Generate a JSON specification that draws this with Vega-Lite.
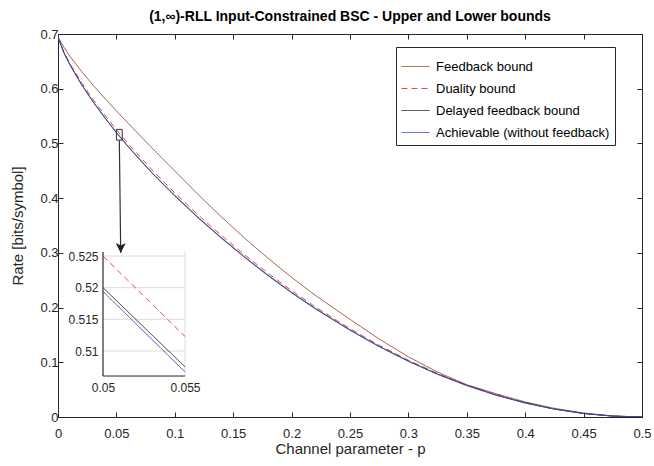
{
  "$schema": "https://vega.github.io/schema/vega-lite/v6.json",
  "width": 584,
  "height": 383,
  "autosize": {"type": "none"},
  "padding": {"left": 58, "top": 34, "right": 12, "bottom": 49},
  "background": "white",
  "title": {"text": "(1,∞)-RLL Input-Constrained BSC - Upper and Lower bounds", "fontSize": 14, "fontWeight": "bold", "font": "Liberation Sans", "color": "#000000", "offset": 4, "anchor": "middle"},
  "config": {
    "view": {"stroke": "#262626", "strokeWidth": 1},
    "font": "Liberation Sans",
    "axis": {"labelFont": "Liberation Sans", "titleFont": "Liberation Sans", "labelColor": "#262626", "titleColor": "#262626", "tickColor": "#262626", "grid": false, "titleFontWeight": "normal"}
  },
  "datasets": {
    "curves": [
      {"series": "Feedback bound", "p": 0, "rate": 0.6942},
      {"series": "Feedback bound", "p": 0.005, "rate": 0.676},
      {"series": "Feedback bound", "p": 0.01, "rate": 0.66},
      {"series": "Feedback bound", "p": 0.02, "rate": 0.632},
      {"series": "Feedback bound", "p": 0.03, "rate": 0.6065},
      {"series": "Feedback bound", "p": 0.04, "rate": 0.5825},
      {"series": "Feedback bound", "p": 0.05, "rate": 0.5595},
      {"series": "Feedback bound", "p": 0.055, "rate": 0.5482},
      {"series": "Feedback bound", "p": 0.06, "rate": 0.537},
      {"series": "Feedback bound", "p": 0.07, "rate": 0.5148},
      {"series": "Feedback bound", "p": 0.08, "rate": 0.4928},
      {"series": "Feedback bound", "p": 0.09, "rate": 0.4711},
      {"series": "Feedback bound", "p": 0.1, "rate": 0.4497},
      {"series": "Feedback bound", "p": 0.12, "rate": 0.4065},
      {"series": "Feedback bound", "p": 0.14, "rate": 0.3655},
      {"series": "Feedback bound", "p": 0.16, "rate": 0.3265},
      {"series": "Feedback bound", "p": 0.18, "rate": 0.2898},
      {"series": "Feedback bound", "p": 0.2, "rate": 0.2552},
      {"series": "Feedback bound", "p": 0.22, "rate": 0.2228},
      {"series": "Feedback bound", "p": 0.25, "rate": 0.1785},
      {"series": "Feedback bound", "p": 0.275, "rate": 0.1425},
      {"series": "Feedback bound", "p": 0.3, "rate": 0.11},
      {"series": "Feedback bound", "p": 0.325, "rate": 0.082},
      {"series": "Feedback bound", "p": 0.35, "rate": 0.059},
      {"series": "Feedback bound", "p": 0.375, "rate": 0.0425},
      {"series": "Feedback bound", "p": 0.4, "rate": 0.0275},
      {"series": "Feedback bound", "p": 0.425, "rate": 0.0158},
      {"series": "Feedback bound", "p": 0.45, "rate": 0.0072},
      {"series": "Feedback bound", "p": 0.475, "rate": 0.0019},
      {"series": "Feedback bound", "p": 0.5, "rate": 0},
      {"series": "Duality bound", "p": 0, "rate": 0.6942},
      {"series": "Duality bound", "p": 0.005, "rate": 0.6672},
      {"series": "Duality bound", "p": 0.01, "rate": 0.6465},
      {"series": "Duality bound", "p": 0.02, "rate": 0.6115},
      {"series": "Duality bound", "p": 0.03, "rate": 0.5805},
      {"series": "Duality bound", "p": 0.04, "rate": 0.5522},
      {"series": "Duality bound", "p": 0.05, "rate": 0.525},
      {"series": "Duality bound", "p": 0.055, "rate": 0.5123},
      {"series": "Duality bound", "p": 0.06, "rate": 0.4998},
      {"series": "Duality bound", "p": 0.07, "rate": 0.476},
      {"series": "Duality bound", "p": 0.08, "rate": 0.4528},
      {"series": "Duality bound", "p": 0.09, "rate": 0.431},
      {"series": "Duality bound", "p": 0.1, "rate": 0.4097},
      {"series": "Duality bound", "p": 0.12, "rate": 0.3693},
      {"series": "Duality bound", "p": 0.14, "rate": 0.3316},
      {"series": "Duality bound", "p": 0.16, "rate": 0.2962},
      {"series": "Duality bound", "p": 0.18, "rate": 0.2625},
      {"series": "Duality bound", "p": 0.2, "rate": 0.231},
      {"series": "Duality bound", "p": 0.22, "rate": 0.2017},
      {"series": "Duality bound", "p": 0.25, "rate": 0.1615},
      {"series": "Duality bound", "p": 0.275, "rate": 0.1311},
      {"series": "Duality bound", "p": 0.3, "rate": 0.1038},
      {"series": "Duality bound", "p": 0.325, "rate": 0.0796},
      {"series": "Duality bound", "p": 0.35, "rate": 0.0587},
      {"series": "Duality bound", "p": 0.375, "rate": 0.041},
      {"series": "Duality bound", "p": 0.4, "rate": 0.0263},
      {"series": "Duality bound", "p": 0.425, "rate": 0.0148},
      {"series": "Duality bound", "p": 0.45, "rate": 0.0066},
      {"series": "Duality bound", "p": 0.475, "rate": 0.0017},
      {"series": "Duality bound", "p": 0.5, "rate": 0},
      {"series": "Delayed feedback bound", "p": 0, "rate": 0.6942},
      {"series": "Delayed feedback bound", "p": 0.005, "rate": 0.6661},
      {"series": "Delayed feedback bound", "p": 0.01, "rate": 0.6447},
      {"series": "Delayed feedback bound", "p": 0.02, "rate": 0.6083},
      {"series": "Delayed feedback bound", "p": 0.03, "rate": 0.5764},
      {"series": "Delayed feedback bound", "p": 0.04, "rate": 0.5475},
      {"series": "Delayed feedback bound", "p": 0.05, "rate": 0.52},
      {"series": "Delayed feedback bound", "p": 0.055, "rate": 0.5075},
      {"series": "Delayed feedback bound", "p": 0.06, "rate": 0.4947},
      {"series": "Delayed feedback bound", "p": 0.07, "rate": 0.4709},
      {"series": "Delayed feedback bound", "p": 0.08, "rate": 0.4477},
      {"series": "Delayed feedback bound", "p": 0.09, "rate": 0.4261},
      {"series": "Delayed feedback bound", "p": 0.1, "rate": 0.4049},
      {"series": "Delayed feedback bound", "p": 0.12, "rate": 0.3648},
      {"series": "Delayed feedback bound", "p": 0.14, "rate": 0.3274},
      {"series": "Delayed feedback bound", "p": 0.16, "rate": 0.2923},
      {"series": "Delayed feedback bound", "p": 0.18, "rate": 0.2588},
      {"series": "Delayed feedback bound", "p": 0.2, "rate": 0.2278},
      {"series": "Delayed feedback bound", "p": 0.22, "rate": 0.1988},
      {"series": "Delayed feedback bound", "p": 0.25, "rate": 0.1591},
      {"series": "Delayed feedback bound", "p": 0.275, "rate": 0.1291},
      {"series": "Delayed feedback bound", "p": 0.3, "rate": 0.1022},
      {"series": "Delayed feedback bound", "p": 0.325, "rate": 0.0783},
      {"series": "Delayed feedback bound", "p": 0.35, "rate": 0.0577},
      {"series": "Delayed feedback bound", "p": 0.375, "rate": 0.0402},
      {"series": "Delayed feedback bound", "p": 0.4, "rate": 0.0257},
      {"series": "Delayed feedback bound", "p": 0.425, "rate": 0.0145},
      {"series": "Delayed feedback bound", "p": 0.45, "rate": 0.0064},
      {"series": "Delayed feedback bound", "p": 0.475, "rate": 0.0016},
      {"series": "Delayed feedback bound", "p": 0.5, "rate": 0},
      {"series": "Achievable (without feedback)", "p": 0, "rate": 0.6942},
      {"series": "Achievable (without feedback)", "p": 0.005, "rate": 0.666},
      {"series": "Achievable (without feedback)", "p": 0.01, "rate": 0.6445},
      {"series": "Achievable (without feedback)", "p": 0.02, "rate": 0.608},
      {"series": "Achievable (without feedback)", "p": 0.03, "rate": 0.576},
      {"series": "Achievable (without feedback)", "p": 0.04, "rate": 0.547},
      {"series": "Achievable (without feedback)", "p": 0.05, "rate": 0.5194},
      {"series": "Achievable (without feedback)", "p": 0.055, "rate": 0.5067},
      {"series": "Achievable (without feedback)", "p": 0.06, "rate": 0.494},
      {"series": "Achievable (without feedback)", "p": 0.07, "rate": 0.4701},
      {"series": "Achievable (without feedback)", "p": 0.08, "rate": 0.4469},
      {"series": "Achievable (without feedback)", "p": 0.09, "rate": 0.4252},
      {"series": "Achievable (without feedback)", "p": 0.1, "rate": 0.404},
      {"series": "Achievable (without feedback)", "p": 0.12, "rate": 0.3639},
      {"series": "Achievable (without feedback)", "p": 0.14, "rate": 0.3265},
      {"series": "Achievable (without feedback)", "p": 0.16, "rate": 0.2914},
      {"series": "Achievable (without feedback)", "p": 0.18, "rate": 0.258},
      {"series": "Achievable (without feedback)", "p": 0.2, "rate": 0.227},
      {"series": "Achievable (without feedback)", "p": 0.22, "rate": 0.1981},
      {"series": "Achievable (without feedback)", "p": 0.25, "rate": 0.1585},
      {"series": "Achievable (without feedback)", "p": 0.275, "rate": 0.1286},
      {"series": "Achievable (without feedback)", "p": 0.3, "rate": 0.1018},
      {"series": "Achievable (without feedback)", "p": 0.325, "rate": 0.078},
      {"series": "Achievable (without feedback)", "p": 0.35, "rate": 0.0574},
      {"series": "Achievable (without feedback)", "p": 0.375, "rate": 0.04},
      {"series": "Achievable (without feedback)", "p": 0.4, "rate": 0.0256},
      {"series": "Achievable (without feedback)", "p": 0.425, "rate": 0.0144},
      {"series": "Achievable (without feedback)", "p": 0.45, "rate": 0.0064},
      {"series": "Achievable (without feedback)", "p": 0.475, "rate": 0.0016},
      {"series": "Achievable (without feedback)", "p": 0.5, "rate": 0}
    ],
    "zoombox": [{"p": 0.05, "p2": 0.055, "rate": 0.506, "rate2": 0.5256}],
    "arrow": [{"p": 0.0525, "rate": 0.506}, {"p": 0.0537, "rate": 0.3}],
    "arrowhead": [{"p": 0.0537, "rate": 0.309}],
    "insetgrid": [
      {"p": 0.05, "p2": 0.055, "rate": 0.51},
      {"p": 0.05, "p2": 0.055, "rate": 0.515},
      {"p": 0.05, "p2": 0.055, "rate": 0.52},
      {"p": 0.05, "p2": 0.055, "rate": 0.525}
    ],
    "insetvgrid": [{"p": 0.055, "rate": 0.50605, "rate2": 0.52563}],
    "insetleft": [{"p": 0.05, "rate": 0.50605, "rate2": 0.52563}],
    "insetbottom": [{"p": 0.05, "p2": 0.055, "rate": 0.50605}]
  },
  "resolve": {"scale": {"x": "independent", "y": "independent"}},
  "layer": [
    {
      "layer": [
        {
          "data": {"name": "curves"},
          "mark": {"type": "line", "strokeWidth": 1, "clip": true},
          "encoding": {
            "x": {"field": "p", "type": "quantitative", "scale": {"domain": [0, 0.5], "nice": false, "zero": false},
              "axis": {"orient": "bottom", "title": "Channel parameter - p", "values": [0, 0.05, 0.1, 0.15, 0.2, 0.25, 0.3, 0.35, 0.4, 0.45, 0.5], "format": "~g", "labelFontSize": 13, "titleFontSize": 15, "tickSize": -5, "labelPadding": 15, "domain": false, "titlePadding": 1, "labelFlush": false}},
            "y": {"field": "rate", "type": "quantitative", "scale": {"domain": [0, 0.7], "nice": false},
              "axis": {"orient": "left", "title": "Rate [bits/symbol]", "values": [0, 0.1, 0.2, 0.3, 0.4, 0.5, 0.6, 0.7], "format": "~g", "labelFontSize": 13, "titleFontSize": 15, "tickSize": -5, "labelPadding": 5, "domain": false, "titlePadding": 14, "labelFlush": false}},
            "color": {"field": "series", "type": "nominal",
              "scale": {"domain": ["Feedback bound", "Duality bound", "Delayed feedback bound", "Achievable (without feedback)"], "range": ["#9E4A35", "#F24444", "#2B2B2B", "#2D4FB8"]},
              "legend": {"orient": "none", "legendX": 338, "legendY": 13, "title": null, "symbolType": "stroke", "symbolSize": 784, "symbolStrokeWidth": 1, "labelFontSize": 13, "labelFont": "Liberation Sans", "labelColor": "#000000", "labelLimit": 0, "strokeColor": "#262626", "fillColor": "#ffffff", "padding": 5, "labelOffset": 6, "rowPadding": 0}},
            "strokeDash": {"field": "series", "type": "nominal",
              "scale": {"domain": ["Feedback bound", "Duality bound", "Delayed feedback bound", "Achievable (without feedback)"], "range": [[1, 0], [6, 4], [1, 0], [1, 0]]},
              "legend": {"orient": "none", "legendX": 338, "legendY": 13, "title": null, "symbolType": "stroke", "symbolSize": 784, "symbolStrokeWidth": 1, "labelFontSize": 13, "labelFont": "Liberation Sans", "labelColor": "#000000", "labelLimit": 0, "strokeColor": "#262626", "fillColor": "#ffffff", "padding": 5, "labelOffset": 6, "rowPadding": 0}}
          }
        },
        {
          "data": {"name": "zoombox"},
          "mark": {"type": "rect", "fill": null, "stroke": "#333333", "strokeWidth": 1},
          "encoding": {
            "x": {"field": "p", "type": "quantitative"},
            "x2": {"field": "p2"},
            "y": {"field": "rate", "type": "quantitative"},
            "y2": {"field": "rate2"}
          }
        },
        {
          "data": {"name": "arrow"},
          "mark": {"type": "line", "stroke": "#333333", "strokeWidth": 1.2},
          "encoding": {
            "x": {"field": "p", "type": "quantitative"},
            "y": {"field": "rate", "type": "quantitative"}
          }
        },
        {
          "data": {"name": "arrowhead"},
          "mark": {"type": "point", "shape": "M-1,-1L0,1L1,-1L0,-0.5Z", "filled": true, "fill": "#222222", "stroke": null, "size": 100, "opacity": 1},
          "encoding": {
            "x": {"field": "p", "type": "quantitative"},
            "y": {"field": "rate", "type": "quantitative"}
          }
        }
      ]
    },
    {
      "data": {"values": [{"p": 0, "rate": 0}]},
      "mark": {"type": "point", "opacity": 0},
      "encoding": {
        "x": {"field": "p", "type": "quantitative", "scale": {"domain": [0, 0.5], "nice": false, "zero": false},
          "axis": {"orient": "top", "title": null, "values": [0, 0.05, 0.1, 0.15, 0.2, 0.25, 0.3, 0.35, 0.4, 0.45, 0.5], "labels": false, "tickSize": -5, "domain": false}},
        "y": {"field": "rate", "type": "quantitative", "scale": {"domain": [0, 0.7], "nice": false},
          "axis": {"orient": "right", "title": null, "values": [0, 0.1, 0.2, 0.3, 0.4, 0.5, 0.6, 0.7], "labels": false, "tickSize": -5, "domain": false}}
      }
    },
    {
      "layer": [
        {
          "data": {"name": "insetgrid"},
          "mark": {"type": "rule", "stroke": "#DCDCDC", "strokeWidth": 1},
          "encoding": {
            "x": {"field": "p", "type": "quantitative", "scale": {"domain": [0.047256, 0.082866], "nice": false, "zero": false},
              "axis": {"orient": "bottom", "offset": -41, "title": null, "values": [0.05, 0.055], "format": ".3~f", "labelFontSize": 12, "ticks": false, "domain": false, "labelPadding": 6}},
            "x2": {"field": "p2"},
            "y": {"field": "rate", "type": "quantitative", "scale": {"domain": [0.499579, 0.560053], "nice": false, "zero": false},
              "axis": {"orient": "left", "offset": -45, "title": null, "values": [0.51, 0.515, 0.52, 0.525], "format": ".3~f", "labelFontSize": 12, "ticks": false, "domain": false, "labelPadding": 5}}
          }
        },
        {
          "data": {"name": "insetvgrid"},
          "mark": {"type": "rule", "stroke": "#DCDCDC", "strokeWidth": 1},
          "encoding": {
            "x": {"field": "p", "type": "quantitative"},
            "y": {"field": "rate", "type": "quantitative"},
            "y2": {"field": "rate2"}
          }
        },
        {
          "data": {"name": "curves"},
          "transform": [
            {"filter": {"field": "p", "range": [0.05, 0.055]}},
            {"filter": "datum.series != 'Feedback bound'"}
          ],
          "mark": {"type": "line", "strokeWidth": 1},
          "encoding": {
            "x": {"field": "p", "type": "quantitative"},
            "y": {"field": "rate", "type": "quantitative"},
            "color": {"field": "series", "type": "nominal"},
            "strokeDash": {"field": "series", "type": "nominal"}
          }
        },
        {
          "data": {"name": "insetleft"},
          "mark": {"type": "rule", "stroke": "#555555", "strokeWidth": 1.5},
          "encoding": {
            "x": {"field": "p", "type": "quantitative"},
            "y": {"field": "rate", "type": "quantitative"},
            "y2": {"field": "rate2"}
          }
        },
        {
          "data": {"name": "insetbottom"},
          "mark": {"type": "rule", "stroke": "#262626", "strokeWidth": 1},
          "encoding": {
            "x": {"field": "p", "type": "quantitative"},
            "x2": {"field": "p2"},
            "y": {"field": "rate", "type": "quantitative"}
          }
        }
      ]
    }
  ]
}
